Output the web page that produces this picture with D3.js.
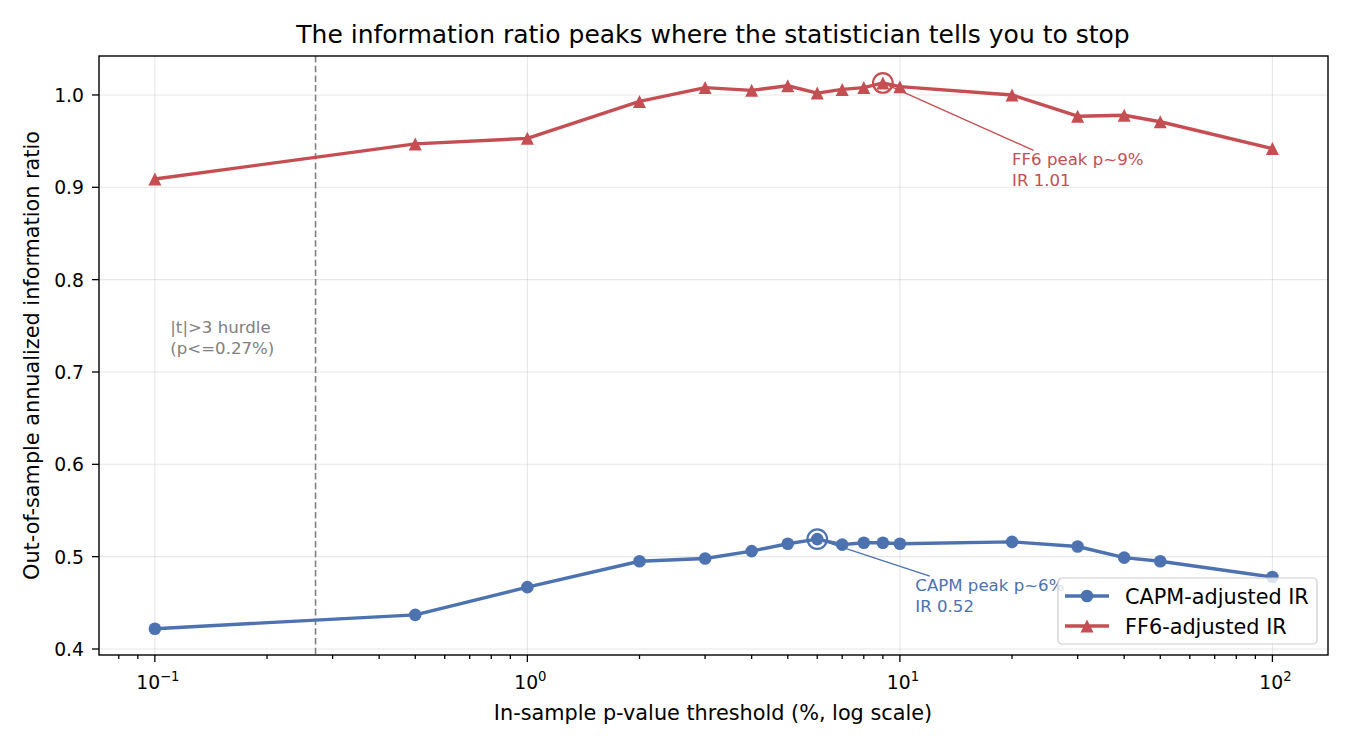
<!DOCTYPE html>
<html>
<head>
<meta charset="utf-8">
<script src="https://cdn.jsdelivr.net/npm/d3@7"></script>
<style>
  body { margin: 0; background: #fff; }
  svg { font-family: "DejaVu Sans", sans-serif; }
</style>
</head>
<body>
<div id="chart"></div>
<script>
// data
const thresholds = [0.1, 0.5, 1, 2, 3, 4, 5, 6, 7, 8, 9, 10, 20, 30, 40, 50, 100];
const capmIR = [0.422, 0.437, 0.467, 0.495, 0.498, 0.506, 0.514, 0.519, 0.513, 0.515, 0.515, 0.514, 0.516, 0.511, 0.499, 0.495, 0.478];
const ff6IR = [0.909, 0.947, 0.953, 0.993, 1.008, 1.005, 1.010, 1.002, 1.006, 1.008, 1.013, 1.009, 1.000, 0.977, 0.978, 0.971, 0.942];
const seriesNames = ["CAPM-adjusted IR", "FF6-adjusted IR"];
const seriesColors = ["#4c72b0", "#c44e52"];
const yTicks = [0.4, 0.5, 0.6, 0.7, 0.8, 0.9, 1.0];
const xMajor = [0.1, 1, 10, 100];
const xExp = ["\u22121", "0", "1", "2"];
const hurdleP = 0.27;
const hurdleLines = ["|t|>3 hurdle", "(p<=0.27%)"];
const hurdleAt = [0.11, 0.7195];
const peaks = [
  { p: 6, ir: 0.519, lines: ["CAPM peak p~6%", "IR 0.52"], at: [11, 0.4405] },
  { p: 9, ir: 1.013, lines: ["FF6 peak p~9%", "IR 1.01"], at: [20, 0.9015] }
];

const W = 1350, H = 750;
const L = 99, R = 1328, T = 56, B = 655;
const TICK_FS = 18.75, LABEL_FS = 20.8, NOTE_FS = 16.6;

const svg = d3.select("#chart").append("svg")
  .attr("width", W).attr("height", H)
  .style("background", "#fff");

const x = d3.scaleLog().domain([0.0708, 141]).range([L, R]);
const y = d3.scaleLinear().domain([0.3935, 1.0422]).range([B, T]);

// minor ticks on log axis
let xMinor = [];
[0.01, 0.1, 1, 10, 100].forEach(dec => {
  for (let k = 2; k <= 9; k++) {
    const v = dec * k;
    if (v > x.domain()[0] && v < x.domain()[1]) xMinor.push(v);
  }
});

// grid
const grid = svg.append("g").attr("stroke", "#b0b0b0").attr("stroke-opacity", 0.3).attr("stroke-width", 1.1);
grid.selectAll(".gx").data(xMajor).join("line")
  .attr("x1", d => x(d)).attr("x2", d => x(d)).attr("y1", T).attr("y2", B);
grid.selectAll(".gy").data(yTicks).join("line")
  .attr("x1", L).attr("x2", R).attr("y1", d => y(d)).attr("y2", d => y(d));

// hurdle line
svg.append("line")
  .attr("x1", x(hurdleP)).attr("x2", x(hurdleP)).attr("y1", T).attr("y2", B)
  .attr("stroke", "#808080").attr("stroke-width", 1.6).attr("stroke-dasharray", "6.5,3.2");

svg.append("text")
  .attr("fill", "#808080").attr("font-size", NOTE_FS)
  .selectAll("tspan").data(hurdleLines).join("tspan")
  .attr("x", x(hurdleAt[0]))
  .attr("y", (d, i) => y(hurdleAt[1]) - (hurdleLines.length - 1 - i) * 20.5)
  .text(d => d);

// series
const series = [capmIR, ff6IR];
const tri = s => `M0,${-s}L${-s},${s}L${s},${s}Z`;

series.forEach((vals, si) => {
  const pts = thresholds.map((t, i) => [t, vals[i]]);
  svg.append("path")
    .datum(pts)
    .attr("fill", "none")
    .attr("stroke", seriesColors[si])
    .attr("stroke-width", 3.4)
    .attr("stroke-linejoin", "round")
    .attr("d", d3.line().x(d => x(d[0])).y(d => y(d[1])));
  const g = svg.append("g").attr("fill", seriesColors[si]);
  if (si === 0) {
    g.selectAll("circle").data(pts).join("circle")
      .attr("cx", d => x(d[0])).attr("cy", d => y(d[1])).attr("r", 6.3);
  } else {
    g.selectAll("path").data(pts).join("path")
      .attr("transform", d => `translate(${x(d[0])},${y(d[1])})`)
      .attr("d", tri(6.5));
  }
});

// peak rings + annotations
peaks.forEach((pk, i) => {
  const col = seriesColors[i];
  const px = x(pk.p), py = y(pk.ir);
  svg.append("circle")
    .attr("cx", px).attr("cy", py).attr("r", 9.8)
    .attr("fill", "none").attr("stroke", col).attr("stroke-width", 2.2);
  const t = svg.append("text").attr("fill", col).attr("font-size", NOTE_FS);
  t.selectAll("tspan").data(pk.lines).join("tspan")
    .attr("x", x(pk.at[0]))
    .attr("y", (d, j) => y(pk.at[1]) - (pk.lines.length - 1 - j) * 20.5)
    .text(d => d);
  const bb = t.node().getBBox();
  const cx = bb.x + bb.width / 2, cy = bb.y + bb.height / 2;
  // clip the connector at the text box
  const dx = px - cx, dy = py - cy;
  const s = Math.min(Math.abs((bb.width / 2) / dx), Math.abs((bb.height / 2) / dy));
  const sx = cx + dx * s, sy = cy + dy * s;
  const len = Math.hypot(px - sx, py - sy);
  const shrink = 4;
  svg.append("line")
    .attr("x1", sx).attr("y1", sy)
    .attr("x2", px - (px - sx) * shrink / len).attr("y2", py - (py - sy) * shrink / len)
    .attr("stroke", col).attr("stroke-width", 1.3);
});

// axes frame
svg.append("rect")
  .attr("x", L).attr("y", T).attr("width", R - L).attr("height", B - T)
  .attr("fill", "none").attr("stroke", "#000").attr("stroke-width", 1.4);

// ticks
const ax = svg.append("g").attr("stroke", "#000").attr("stroke-width", 1.3);
ax.selectAll(".mj").data(xMajor).join("line")
  .attr("x1", d => x(d)).attr("x2", d => x(d)).attr("y1", B).attr("y2", B + 7);
ax.selectAll(".mn").data(xMinor).join("line")
  .attr("x1", d => x(d)).attr("x2", d => x(d)).attr("y1", B).attr("y2", B + 4);
ax.selectAll(".yt").data(yTicks).join("line")
  .attr("x1", L - 7).attr("x2", L).attr("y1", d => y(d)).attr("y2", d => y(d));

const xl = svg.append("g").attr("font-size", TICK_FS).attr("fill", "#000");
xMajor.forEach((v, i) => {
  const t = xl.append("text").attr("x", x(v) + 3).attr("y", 689).attr("text-anchor", "middle");
  t.append("tspan").text("10");
  t.append("tspan").attr("font-size", 13.2).attr("dy", -8.5).text(xExp[i]);
});
svg.append("g").attr("font-size", TICK_FS)
  .selectAll("text").data(yTicks).join("text")
  .attr("x", L - 15).attr("y", d => y(d) + 7).attr("text-anchor", "end")
  .text(d => d3.format(".1f")(d));

// labels
svg.append("text").attr("x", 713).attr("y", 720).attr("text-anchor", "middle")
  .attr("font-size", LABEL_FS).text("In-sample p-value threshold (%, log scale)");
svg.append("text").attr("transform", `translate(39,${(T + B) / 2}) rotate(-90)`)
  .attr("text-anchor", "middle").attr("font-size", LABEL_FS)
  .text("Out-of-sample annualized information ratio");
svg.append("text").attr("x", 713).attr("y", 43).attr("text-anchor", "middle")
  .attr("font-size", 25).text("The information ratio peaks where the statistician tells you to stop");

// legend
const lg = svg.append("g").attr("transform", "translate(1058,578)");
lg.append("rect").attr("width", 259).attr("height", 66).attr("rx", 4)
  .attr("fill", "#fff").attr("fill-opacity", 0.8).attr("stroke", "#cccccc").attr("stroke-width", 1.2);
seriesNames.forEach((nm, i) => {
  const yy = 18 + i * 30;
  lg.append("line").attr("x1", 7).attr("x2", 51).attr("y1", yy).attr("y2", yy)
    .attr("stroke", seriesColors[i]).attr("stroke-width", 3.4);
  if (i === 0) lg.append("circle").attr("cx", 29).attr("cy", yy).attr("r", 6.3).attr("fill", seriesColors[i]);
  else lg.append("path").attr("transform", `translate(29,${yy})`).attr("d", tri(6.5)).attr("fill", seriesColors[i]);
  lg.append("text").attr("x", 67).attr("y", yy + 7.5).attr("font-size", LABEL_FS).text(nm);
});
</script>
</body>
</html>
